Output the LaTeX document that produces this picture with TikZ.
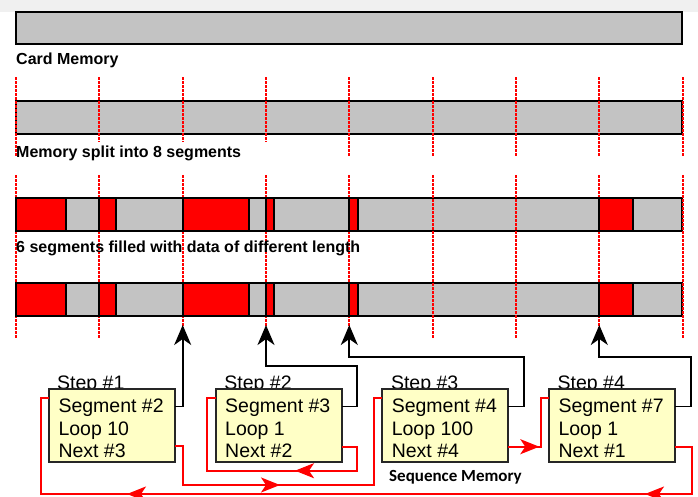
\documentclass[tikz,border=0pt]{standalone}
\usepackage{fontspec}
\setmainfont{Liberation Sans}
\newfontfamily\seqfont{Carlito}
\usetikzlibrary{arrows.meta,calc,decorations.markings}
\definecolor{bargray}{HTML}{C3C3C3}
\definecolor{boxfill}{HTML}{FFFFC6}
\definecolor{topband}{HTML}{F0F0F0}
\definecolor{boxline}{HTML}{262626}
\begin{document}
\begin{tikzpicture}[x=1pt,y=-1pt,
  bar/.style={fill=bargray,draw=black,line width=1.8pt},
  seg/.style={fill=red,draw=black,line width=1.8pt},
  divline/.style={red,line width=1.8pt,dash pattern=on 2.5pt off 1.5pt},
  heading/.style={anchor=base west,inner sep=0pt,font=\fontsize{16}{19}\selectfont\bfseries},
  stepbox/.style={draw=boxline,fill=boxfill,line width=2.2pt,minimum width=126pt,minimum height=73pt,inner sep=0pt,outer sep=0pt,anchor=north west},
  steptitle/.style={anchor=base west,inner sep=0pt,font=\fontsize{19.5}{22}\selectfont},
  steptext/.style={anchor=base west,inner sep=0pt,align=left,font=\fontsize{19.5}{22.7}\selectfont},
  ptr/.style={draw=black,line width=1.8pt,-{Stealth[length=20pt,width=17pt,inset=6pt]}},
  nxt/.style={red,line width=2pt},
  redarrow/.style={postaction={decorate},decoration={markings,mark=at position #1 with {\arrow{Stealth[length=19pt,width=15pt,inset=5pt]}}}}
]
\useasboundingbox (0,0) rectangle (698,496);
\clip (0,0) rectangle (698,496);
\fill[white] (0,0) rectangle (698,496);
\fill[topband] (0,0) rectangle (698,12);

% bars
\draw[bar] (16,12) rectangle (682,44);
\node[heading] (lab1) at (16,64.7) {Card Memory};

\draw[bar] (16,101) rectangle (682,134);
\foreach \k in {0,4,5,6,7,8}
  \draw[divline] ({16+83.33*\k},77) -- ({16+83.33*\k},157);
\foreach \k in {1,2,3}
  \draw[divline] ({16+83.33*\k},77) -- ({16+83.33*\k},142);
\node[heading] (lab2) at (16,157) {Memory split into 8 segments};

\draw[bar] (16,198) rectangle (682,231);
\draw[bar] (16,283) rectangle (682,316);
\foreach \k in {0,...,8}
  \draw[divline] ({16+83.33*\k},175) -- ({16+83.33*\k},339);
\foreach \y in {198,283}{
  \draw[seg] (16,\y) rectangle (66,\y+33);
  \draw[seg] (99.3,\y) rectangle (116,\y+33);
  \draw[seg] (182.7,\y) rectangle (249.3,\y+33);
  \draw[seg] (266,\y) rectangle (274.3,\y+33);
  \draw[seg] (349.3,\y) rectangle (357.7,\y+33);
  \draw[seg] (599.3,\y) rectangle (632.7,\y+33);
}
\node[heading] (lab3) at (16,252.5) {6 segments filled with data of different length};

% segment start points
\coordinate (seg2) at (182.7,325);
\coordinate (seg3) at (266,325);
\coordinate (seg4) at (349.3,325);
\coordinate (seg7) at (599.3,325);

% step boxes
\coordinate (p1) at (49,389);
\coordinate (p2) at (215.7,389);
\coordinate (p3) at (382.3,389);
\coordinate (p4) at (549,389);
\node[steptitle] (h1) at ($(p1)+(8,0)$) {Step \#1};
\node[steptitle] (h2) at ($(p2)+(8.5,0)$) {Step \#2};
\node[steptitle] (h3) at ($(p3)+(8.5,0)$) {Step \#3};
\node[steptitle] (h4) at ($(p4)+(8.5,0)$) {Step \#4};
\node[stepbox] (s1) at (p1) {};
\node[stepbox] (s2) at (p2) {};
\node[stepbox] (s3) at (p3) {};
\node[stepbox] (s4) at (p4) {};
\node[steptext] (t1) at ($(s1.north west)+(9.3,68.7)$) {Segment \#2\\Loop 10\\Next \#3};
\node[steptext] (t2) at ($(s2.north west)+(9.3,68.7)$) {Segment \#3\\Loop 1\\Next \#2};
\node[steptext] (t3) at ($(s3.north west)+(9.3,68.7)$) {Segment \#4\\Loop 100\\Next \#4};
\node[steptext] (t4) at ($(s4.north west)+(9.3,68.7)$) {Segment \#7\\Loop 1\\Next \#1};

\node[anchor=base west,inner sep=0pt,font=\seqfont\bfseries\fontsize{17}{19}\selectfont] (seqlab) at (389,481) {Sequence Memory};

% pointers to segments
\draw[ptr] ($(s1.north east)+(0,17.5)$) -| (seg2);
\draw[ptr] ($(s2.north east)+(0,17.5)$) -| (357.3,365.7) -| (seg3);
\draw[ptr] ($(s3.north east)+(0,17.5)$) -| (524.3,357) -| (seg4);
\draw[ptr] ($(s4.north east)+(0,17.5)$) -| (691,357) -| (seg7);

% next links
\draw[nxt,redarrow=144pt] ($(s1.north east)+(0,57)$) -| (182.7,485) -| ($(s3.north west)+(-8.3,9.3)$) -- ($(s3.north west)+(0,9.3)$);
\draw[nxt,redarrow=101.9pt] ($(s2.north east)+(0,57.7)$) -| (357.3,470.7) -| ($(s2.north west)+(-8.4,9.3)$) -- ($(s2.north west)+(0,9.3)$);
\draw[nxt,redarrow=31pt] ($(s3.north east)+(0,57.7)$) -| ($(s4.north west)+(-8,9.3)$) -- ($(s4.north west)+(0,9.3)$);
\draw[nxt,postaction={decorate},decoration={markings,
    mark=at position 110.7pt with {\arrow{Stealth[length=19pt,width=15pt,inset=5pt]}},
    mark=at position 628.7pt with {\arrow{Stealth[length=19pt,width=15pt,inset=5pt]}}}]
  ($(s4.north east)+(0,57.7)$) -| (691.7,494) -| ($(s1.north west)+(-8.3,9.3)$) -- ($(s1.north west)+(0,9.3)$);
\end{tikzpicture}
\end{document}
